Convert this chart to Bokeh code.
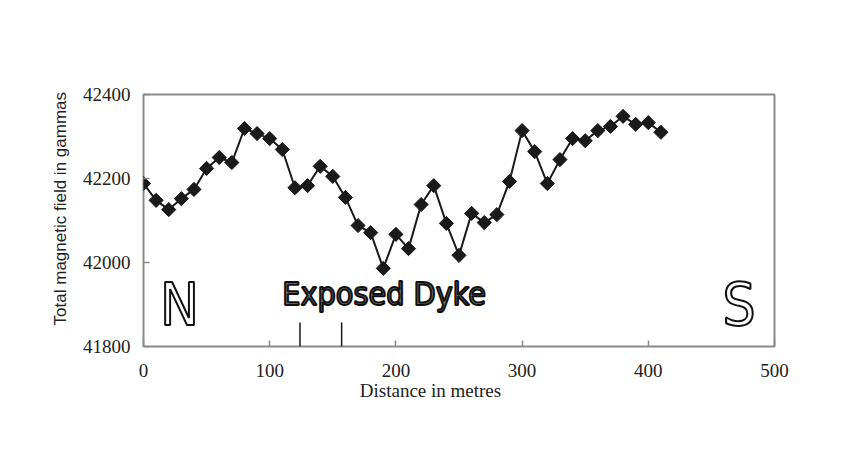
import math
from bokeh.plotting import figure
from bokeh.models import Range1d, FixedTicker, ColumnDataSource
from bokeh.core.properties import value
from bokeh.embed import file_html
from bokeh.resources import INLINE

distance = [0, 10, 20, 30, 40, 50, 60, 70, 80, 90, 100, 110, 120, 130, 140, 150,
            160, 170, 180, 190, 200, 210, 220, 230, 240, 250, 260, 270, 280, 290,
            300, 310, 320, 330, 340, 350, 360, 370, 380, 390, 400, 410]
field = [42188, 42148, 42126, 42152, 42174, 42224, 42250, 42238, 42319, 42307,
         42295, 42269, 42178, 42183, 42229, 42205, 42155, 42088, 42071, 41986,
         42067, 42033, 42138, 42183, 42093, 42017, 42117, 42095, 42114, 42193,
         42314, 42264, 42188, 42245, 42295, 42290, 42314, 42324, 42348, 42329,
         42333, 42310]
x_ticks = [0, 100, 200, 300, 400, 500]
y_ticks = [41800, 42000, 42200, 42400]
dyke_edges = [124, 157]
dyke_mark_top = 41857

NBSP = "\u00a0"

p = figure(frame_width=631, frame_height=252, output_backend="svg",
           toolbar_location=None, x_range=Range1d(0, 500), y_range=Range1d(41800, 42400),
           min_border_left=143, min_border_top=94, min_border_right=51, min_border_bottom=110)
p.background_fill_color = "white"
p.border_fill_color = "white"
p.outline_line_color = "#8a8a8a"
p.outline_line_width = 2
p.xgrid.visible = False
p.ygrid.visible = False

for ax in (p.xaxis[0], p.yaxis[0]):
    ax.axis_line_color = None
    ax.major_tick_line_color = "#8a8a8a"
    ax.major_tick_line_width = 1.5
    ax.major_tick_in = 6
    ax.major_tick_out = 0
    ax.minor_tick_line_color = None
    ax.major_label_text_font = "Liberation Serif"
    ax.major_label_text_font_size = "19px"
    ax.major_label_text_color = "#222222"

p.xaxis.ticker = FixedTicker(ticks=x_ticks)
p.yaxis.ticker = FixedTicker(ticks=y_ticks)
p.xaxis.major_label_standoff = 17
p.yaxis.major_label_standoff = 13

p.yaxis.axis_label = NBSP * 5 + "Total magnetic field in gammas"
p.yaxis.axis_label_text_font = "Liberation Sans"
p.yaxis.axis_label_text_font_style = "normal"
p.yaxis.axis_label_text_font_size = "17px"
p.yaxis.axis_label_text_color = "#222222"
p.yaxis.axis_label_standoff = 10

p.xaxis.axis_label = "Distance in metres" + NBSP * 12
p.xaxis.axis_label_text_font = "Liberation Serif"
p.xaxis.axis_label_text_font_style = "normal"
p.xaxis.axis_label_text_font_size = "19px"
p.xaxis.axis_label_text_color = "#222222"
p.xaxis.axis_label_standoff = 0

src = ColumnDataSource(dict(x=distance, y=field))
p.line("x", "y", source=src, line_color="#1a1a1a", line_width=2)
p.scatter("x", "y", source=src, marker="square", angle=math.pi / 4, size=10,
          fill_color="#1a1a1a", line_color="#1a1a1a")

# dyke edge markers
p.segment(x0=dyke_edges, y0=[41800] * 2, x1=dyke_edges, y1=[dyke_mark_top] * 2,
          line_color="#1a1a1a", line_width=1.5)

font = value("'DejaVu Sans Condensed', sans-serif")
p.text(x=[28.5], y=[41898], text=["N"], text_font=font, text_font_size="58px",
       text_align="center", text_baseline="middle", text_color="white",
       text_outline_color="#111111")
p.text(x=[190.7], y=[41925], text=["Exposed Dyke"], text_font=font, text_font_size="32px",
       text_align="center", text_baseline="middle", text_color="#777777",
       text_outline_color="#111111")
p.text(x=[472], y=[41900], text=["S"], text_font=font, text_font_size="58px",
       text_align="center", text_baseline="middle", text_color="white",
       text_outline_color="#111111")

open("out.html", "w").write(file_html(p, INLINE))
